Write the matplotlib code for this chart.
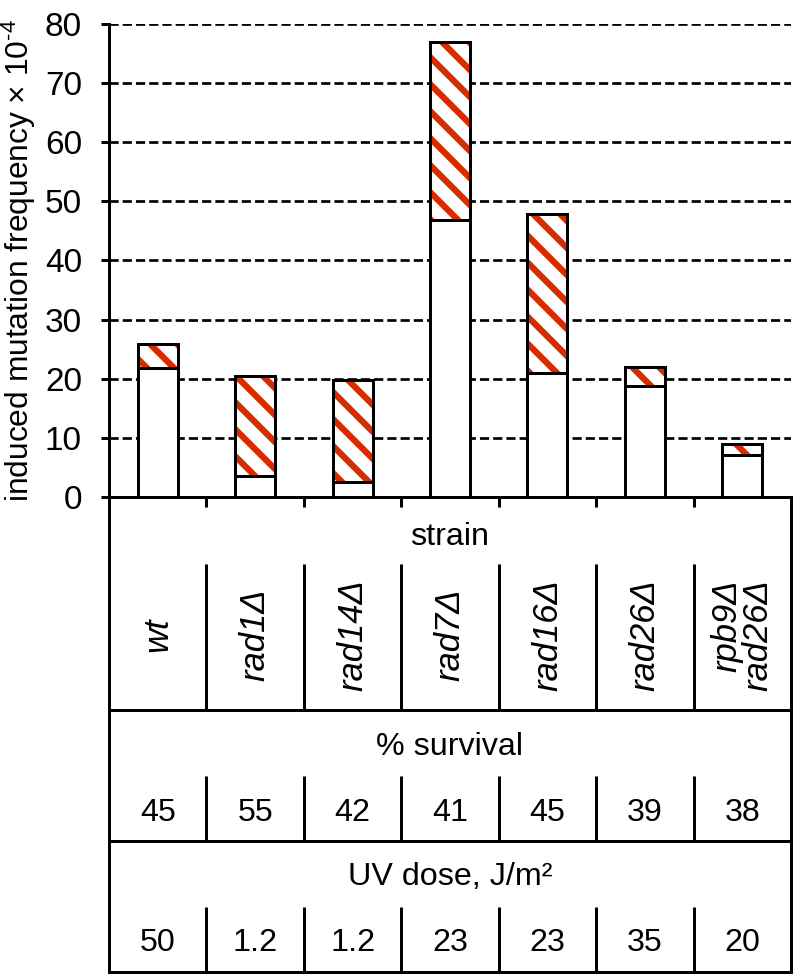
import matplotlib
matplotlib.use("Agg")
import matplotlib.pyplot as plt
from matplotlib.lines import Line2D
from matplotlib.transforms import IdentityTransform
import numpy as np

# ---------------- data ----------------
strains = ["wt", "rad1\u0394", "rad14\u0394", "rad7\u0394", "rad16\u0394", "rad26\u0394", "rpb9\u0394\nrad26\u0394"]
lower_vals = [21.9, 3.6, 2.6, 46.9, 20.9, 18.8, 7.1]      # white (lower) segment
total_vals = [25.8, 20.5, 19.8, 76.9, 47.9, 22.0, 9.0]    # top of hatched segment
survival = ["45", "55", "42", "41", "45", "39", "38"]
uv_dose = ["50", "1.2", "1.2", "23", "23", "35", "20"]
yticks = [0, 10, 20, 30, 40, 50, 60, 70, 80]

# ---------------- style ----------------
DPI = 166
W, H = 797, 977
px = 72.0 / DPI  # points per pixel

plt.rcParams['font.family'] = ['Liberation Sans', 'DejaVu Sans']
plt.rcParams['mathtext.fontset'] = 'custom'
plt.rcParams['mathtext.rm'] = 'Liberation Sans'
plt.rcParams['mathtext.it'] = 'Liberation Sans:italic'

RED = '#D62C00'
LW = 3 * px
STRIPE_PERIOD = 27   # px, along x or y
STRIPE_W = 6.3       # px, perpendicular width

fig = plt.figure(figsize=(W / DPI, H / DPI), dpi=DPI)

x_left, x_right = 109, 791
y_top, y_axis, y_bottom = 24, 497, 972

ax = fig.add_axes([x_left / W, 1 - y_axis / H, (x_right - x_left) / W, (y_axis - y_top) / H])
x = np.arange(len(strains))
bw = 0.41
upper = [t - l for t, l in zip(total_vals, lower_vals)]

ax.set_xlim(-0.5, len(strains) - 0.5)
ax.set_ylim(0, 80)

ax.bar(x, lower_vals, width=bw, facecolor='white', edgecolor='black', linewidth=LW, zorder=3)
hb = ax.bar(x, upper, bottom=lower_vals, width=bw, facecolor='white', edgecolor='none',
            linewidth=0, zorder=3)
ax.bar(x, upper, bottom=lower_vals, width=bw, fill=False, edgecolor='black', linewidth=LW, zorder=4)

# diagonal red stripes (top-left to bottom-right) clipped to each upper segment
for p in hb.patches:
    bb = p.get_window_extent()
    c0 = bb.x0 + bb.y0
    c1 = bb.x1 + bb.y1
    for c in np.arange(np.floor(c0 / STRIPE_PERIOD) * STRIPE_PERIOD, c1 + STRIPE_PERIOD, STRIPE_PERIOD):
        ya = np.array([bb.y0 - 20, bb.y1 + 20])
        xa = c - ya
        ln = Line2D(xa, ya, transform=IdentityTransform(), color=RED,
                    linewidth=STRIPE_W * px, solid_capstyle='butt', zorder=3.5)
        ax.add_artist(ln)
        ln.set_clip_path(p)

ax.set_yticks(yticks)
ax.set_yticklabels([str(v) for v in yticks], fontsize=14.5)
ax.yaxis.grid(True, color='black', linewidth=2.7 * px, linestyle=(0, (3.4, 1.5)))
ax.set_axisbelow(True)
ax.set_xticks([])
ax.set_xticks(np.arange(-0.5, len(strains)), minor=True)
ax.tick_params(axis='x', which='minor', direction='out', length=10 * px, width=LW, labelbottom=False)
ax.tick_params(axis='y', direction='out', length=8 * px, width=LW, pad=19 * px)
for s in ['top', 'right']:
    ax.spines[s].set_visible(False)
for s in ['left', 'bottom']:
    ax.spines[s].set_linewidth(LW)

ax.set_ylabel("induced mutation frequency \u00d7 10$^{\u2010 4}$", fontsize=13.8, va='center')
ax.yaxis.set_label_coords((19 - x_left) / (x_right - x_left), 0.5)

# ---------------- table ----------------
axt = fig.add_axes([x_left / W, 1 - y_bottom / H, (x_right - x_left) / W, (y_bottom - y_axis) / H])
axt.set_xlim(-0.5, len(strains) - 0.5)
axt.set_ylim(y_bottom - y_axis, 0)
axt.set_xticks([]); axt.set_yticks([])
axt.patch.set_alpha(0)
axt.spines['top'].set_visible(False)
for s in ['left', 'right', 'bottom']:
    axt.spines[s].set_linewidth(LW)

xmid = (len(strains) - 1) / 2
tfs = 14
# strain row
axt.text(xmid, 40, "strain", ha='center', va='center', fontsize=tfs)
for b in np.arange(0.5, len(strains) - 1):
    axt.plot([b, b], [67, 213], color='black', lw=LW, solid_capstyle='butt')
for i, s in enumerate(strains):
    axt.text(i, 138, s, ha='center', va='center', rotation=90, fontsize=15,
             style='italic', multialignment='right', linespacing=0.9)
axt.plot([-0.5, len(strains) - 0.5], [213, 213], color='black', lw=LW, solid_capstyle='butt')

# survival row
axt.text(xmid, 250, "% survival", ha='center', va='center', fontsize=tfs)
for b in np.arange(0.5, len(strains) - 1):
    axt.plot([b, b], [279, 344], color='black', lw=LW, solid_capstyle='butt')
for i, s in enumerate(survival):
    axt.text(i, 316, s, ha='center', va='center', fontsize=tfs)
axt.plot([-0.5, len(strains) - 0.5], [344, 344], color='black', lw=LW, solid_capstyle='butt')

# UV row
axt.text(xmid, 380, "UV dose, J/m\u00b2", ha='center', va='center', fontsize=tfs)
for b in np.arange(0.5, len(strains) - 1):
    axt.plot([b, b], [410, 475], color='black', lw=LW, solid_capstyle='butt')
for i, s in enumerate(uv_dose):
    axt.text(i, 446, s, ha='center', va='center', fontsize=tfs)

fig.savefig("out.png", dpi=DPI)
